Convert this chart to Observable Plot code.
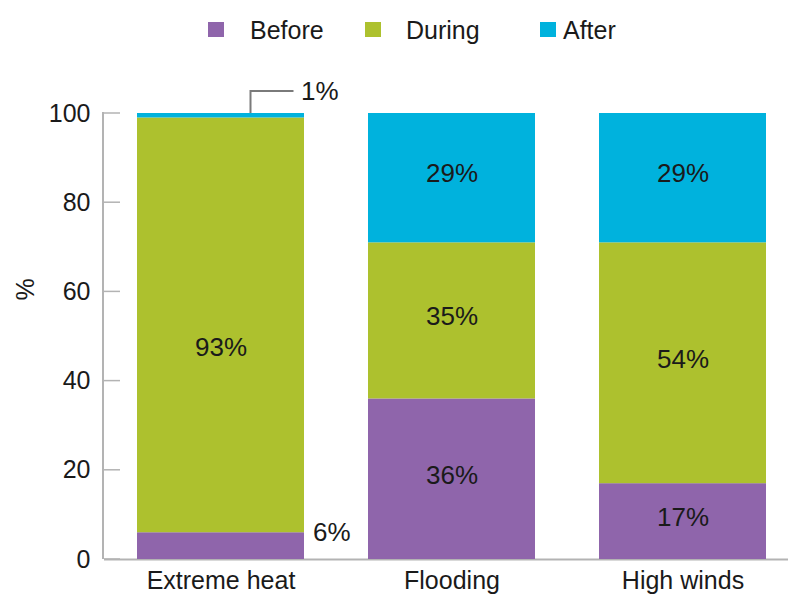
<!DOCTYPE html>
<html>
<head>
<meta charset="utf-8">
<script src="https://cdn.jsdelivr.net/npm/d3@7"></script>
<script src="https://cdn.jsdelivr.net/npm/@observablehq/plot@0.6"></script>
<style>
  html, body { margin: 0; padding: 0; background: #fff; }
  body { width: 788px; height: 594px; overflow: hidden; font-family: "Liberation Sans", Arial, sans-serif; color: #1a1a1a; }
  #legend { position: relative; height: 60px; width: 788px; }
  .sw { position: absolute; top: 22px; width: 16px; height: 15px; }
  .lb { position: absolute; top: 15px; font-size: 25px; line-height: 30px; color: #1a1a1a; }
</style>
</head>
<body>
<div id="legend"></div>
<div id="chart"></div>
<script>
const categories = ["Extreme heat", "Flooding", "High winds"];
const series = ["Before", "During", "After"];
const before = [6, 36, 17];
const during = [93, 35, 54];
const after = [1, 29, 29];
const colors = ["#8f65ab", "#adc12e", "#00b2dd"];
const yTicks = [0, 20, 40, 60, 80, 100];
const yLabel = "%";

const values = [before, during, after];
const data = [];
series.forEach((s, si) => categories.forEach((c, ci) => data.push({category: c, series: s, value: values[si][ci]})));

// legend
const legendPos = [[208, 250], [365, 406], [540, 563]];
const legend = document.getElementById("legend");
series.forEach((s, i) => {
  const sw = document.createElement("div");
  sw.className = "sw"; sw.style.left = legendPos[i][0] + "px"; sw.style.background = colors[i];
  const lb = document.createElement("div");
  lb.className = "lb"; lb.style.left = legendPos[i][1] + "px"; lb.textContent = s;
  legend.appendChild(sw); legend.appendChild(lb);
});

const inside = data.filter(d => d.value >= 10);
const smallBefore = data.filter(d => d.value < 10 && d.series === "Before");
const smallAfter = data.filter(d => d.value < 10 && d.series === "After");

const axisLine = (index, scales, vals, dims) => {
  const g = d3.create("svg:g").attr("stroke", "#b3b3b3").attr("fill", "none");
  const x0 = dims.marginLeft;
  g.append("line").attr("stroke-width", 2).attr("x1", x0 - 1).attr("x2", x0 - 1).attr("y1", scales.y(100) - 1).attr("y2", scales.y(0));
  yTicks.forEach(t => g.append("line").attr("stroke-width", 1.5).attr("x1", x0).attr("x2", x0 + 16).attr("y1", scales.y(t)).attr("y2", scales.y(t)));
  return g.node();
};

const leader = (index, scales, vals, dims) => {
  const g = d3.create("svg:g").attr("stroke", "#7a7a7a").attr("stroke-width", 2).attr("fill", "none");
  const bw = scales.x.bandwidth ? scales.x.bandwidth() : 167;
  smallAfter.forEach(d => {
    const cx = scales.x(d.category) + bw / 2 + 30;
    const yTop = scales.y(100);
    g.append("path").attr("d", `M${cx},${yTop}V${yTop - 22}H${cx + 43}`);
  });
  return g.node();
};

const chart = Plot.plot({
  width: 788,
  height: 534,
  marginTop: 53,
  marginBottom: 35,
  marginLeft: 104,
  marginRight: 0,
  style: {fontFamily: "Liberation Sans, Arial, sans-serif", fontSize: "25px", color: "#1a1a1a", overflow: "visible"},
  x: {domain: categories, range: [104, 798], paddingInner: 0.279, paddingOuter: 0.138, label: null},
  y: {domain: [0, 100], label: null},
  color: {domain: series, range: colors},
  marks: [
    Plot.ruleY([0], {stroke: "#b3b3b3", strokeWidth: 2}),
    Plot.barY(data, {x: "category", y: "value", fill: "series"}),
    axisLine,
    leader,
    Plot.axisY({ticks: yTicks, tickSize: 0, tickPadding: 14, fontSize: 25, label: null, fill: "#1a1a1a"}),
    Plot.axisX({tickSize: 0, tickPadding: 12, fontSize: 25, label: null, fill: "#1a1a1a"}),
    Plot.text([yLabel], {frameAnchor: "left", text: d => d, rotate: -90, fontSize: 25, fill: "#1a1a1a", dx: -79, dy: -36}),
    Plot.text(inside, Plot.stackY({x: "category", y: "value", z: "series", text: d => d.value + "%", fontSize: 26, fill: "#1a1a1a", dy: -4})),
    Plot.text(smallBefore, {x: "category", y: "value", text: d => d.value + "%", fontSize: 26, fill: "#1a1a1a", textAnchor: "start", dx: 92}),
    Plot.text(smallAfter, {x: "category", y: () => 100, text: d => d.value + "%", fontSize: 26, fill: "#1a1a1a", textAnchor: "start", dx: 80, dy: -22})
  ]
});
document.getElementById("chart").appendChild(chart);
</script>
</body>
</html>
